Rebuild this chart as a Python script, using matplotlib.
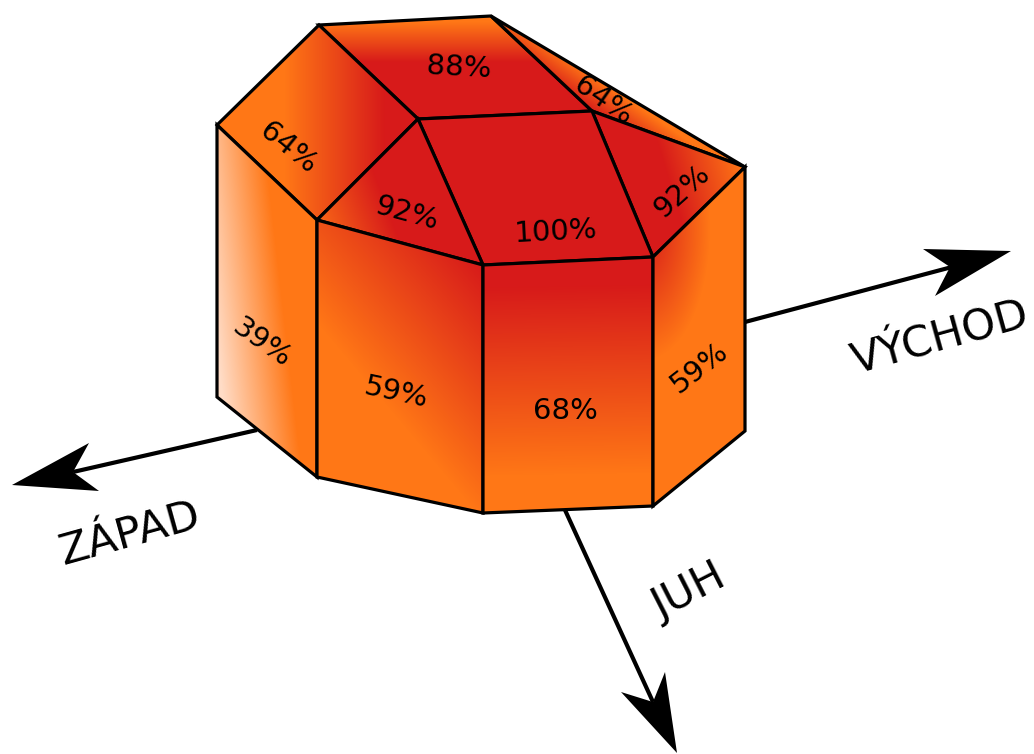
#!/usr/bin/env python

"""Draws the insolation share of each face of a roof and wall block."""

import numpy as np

import matplotlib as mpl
mpl.use('Agg')
from matplotlib import pyplot as plt
from matplotlib.colors import LinearSegmentedColormap
from matplotlib.patches import Polygon


WIDTH, HEIGHT = 1034, 754

RED = '#d71a1a'
ORANGE = '#ff7716'
PEACH = '#ffdcc6'

# Faces in drawing order, vertices in image pixels
faceLabels = ['88%', '64%', '92%', '100%', '64%', '92%', '39%', '59%', '68%', '59%']
faceVertices = [
    [(319, 25), (491, 16), (592, 111), (418, 119)],
    [(491, 16), (745, 167), (592, 111)],
    [(592, 111), (745, 167), (653, 257)],
    [(418, 119), (592, 111), (653, 257), (483, 265)],
    [(319, 25), (418, 119), (317, 220), (217, 125)],
    [(418, 119), (483, 265), (317, 220)],
    [(217, 125), (317, 220), (317, 477), (217, 397)],
    [(317, 220), (483, 265), (483, 513), (317, 477)],
    [(483, 265), (653, 257), (653, 506), (483, 513)],
    [(653, 257), (745, 167), (745, 431), (653, 506)],
]
labelCentres = [
    (459, 68), (603, 101), (682, 191), (556, 232), (288, 148),
    (406, 214), (262, 343), (396, 393), (565, 411), (699, 368),
]
labelAngles = [-3, -35, 42, 3, -39, -15, -35, -12, 0, 38]

# Shading of each face: two ends of a linear ramp, or a centre and radii
faceShades = [
    ('linear', (405, 22), (405, 62), ORANGE, RED),
    ('linear', (618, 92), (600, 118), ORANGE, RED),
    ('linear', (672, 192), (745, 170), RED, ORANGE),
    ('linear', (0, 0), (0, 1), RED, RED),
    ('linear', (285, 120), (385, 120), ORANGE, RED),
    ('linear', (305, 230), (385, 200), ORANGE, RED),
    ('linear', (215, 330), (285, 322), PEACH, ORANGE),
    ('linear', (390, 410), (516, 304), ORANGE, RED),
    ('linear', (566, 285), (569, 475), RED, ORANGE),
    ('radial', (645, 230), (65, 130), RED, ORANGE),
]

directionLabels = ['VÝCHOD', 'ZÁPAD', 'JUH']
directionCentres = [(940, 339), (130, 534), (689, 592)]
directionAngles = [15.5, 15.5, 27]
arrowShafts = [
    [(745, 322), (952, 267)],
    [(257, 430), (73, 472)],
    [(565, 510), (653, 702)],
]
arrowHeads = [
    [(1011, 251), (923, 249), (950, 267), (935, 296)],
    [(12, 485), (89, 443), (73, 472), (99, 491)],
    [(677, 753), (621, 692), (653, 702), (665, 672)],
]


def shade_values(shade, xx, yy):
    kind, first, second = shade[:3]
    
    if kind == 'radial':
        return np.hypot((xx - first[0]) / second[0], (yy - first[1]) / second[1])
    
    dx, dy = second[0] - first[0], second[1] - first[1]
    return ((xx - first[0]) * dx + (yy - first[1]) * dy) / (dx ** 2 + dy ** 2)


if __name__ == '__main__':
    
    mpl.rc('font', family='DejaVu Sans')
    
    fig = plt.figure(figsize=(WIDTH / 100, HEIGHT / 100), dpi=100)
    axes = fig.add_axes([0., 0., 1., 1.])
    axes.set_axis_off()
    
    xx, yy = np.meshgrid(np.arange(WIDTH) + 0.5, np.arange(HEIGHT) + 0.5)
    
    for shaft, head in zip(arrowShafts, arrowHeads):
        axes.plot(*zip(*shaft), color='black', lw=3., solid_capstyle='butt', zorder=1)
        axes.add_patch(Polygon(head, closed=True, fc='black', ec='none', zorder=1))
    
    for text, centre, angle in zip(directionLabels, directionCentres, directionAngles):
        axes.text(
            centre[0], centre[1], text, fontsize=31, rotation=angle,
            ha='center', va='center', rotation_mode='anchor', zorder=1
        )
    
    for i, (vertices, shade) in enumerate(zip(faceVertices, faceShades)):
        zorder = 2 + i
        cmap = LinearSegmentedColormap.from_list('face', [shade[3], shade[4]])
        
        image = axes.imshow(
            np.clip(shade_values(shade, xx, yy), 0., 1.), cmap=cmap, vmin=0., vmax=1.,
            extent=(0, WIDTH, HEIGHT, 0), interpolation='bilinear', aspect='auto', zorder=zorder
        )
        outline = Polygon(
            vertices, closed=True, fc='none', ec='black', lw=2.3, joinstyle='miter', zorder=zorder
        )
        axes.add_patch(outline)
        image.set_clip_path(outline)
        
        # The label of the back slope is partly hidden by the faces in front of it
        labelOrder = zorder + 0.5 if i == 1 else 20
        axes.text(
            labelCentres[i][0], labelCentres[i][1], faceLabels[i], fontsize=21,
            rotation=labelAngles[i], ha='center', va='center', rotation_mode='anchor',
            zorder=labelOrder
        )
    
    axes.set_xlim(0, WIDTH)
    axes.set_ylim(HEIGHT, 0)
    
    fig.savefig('out.png', dpi=100)
